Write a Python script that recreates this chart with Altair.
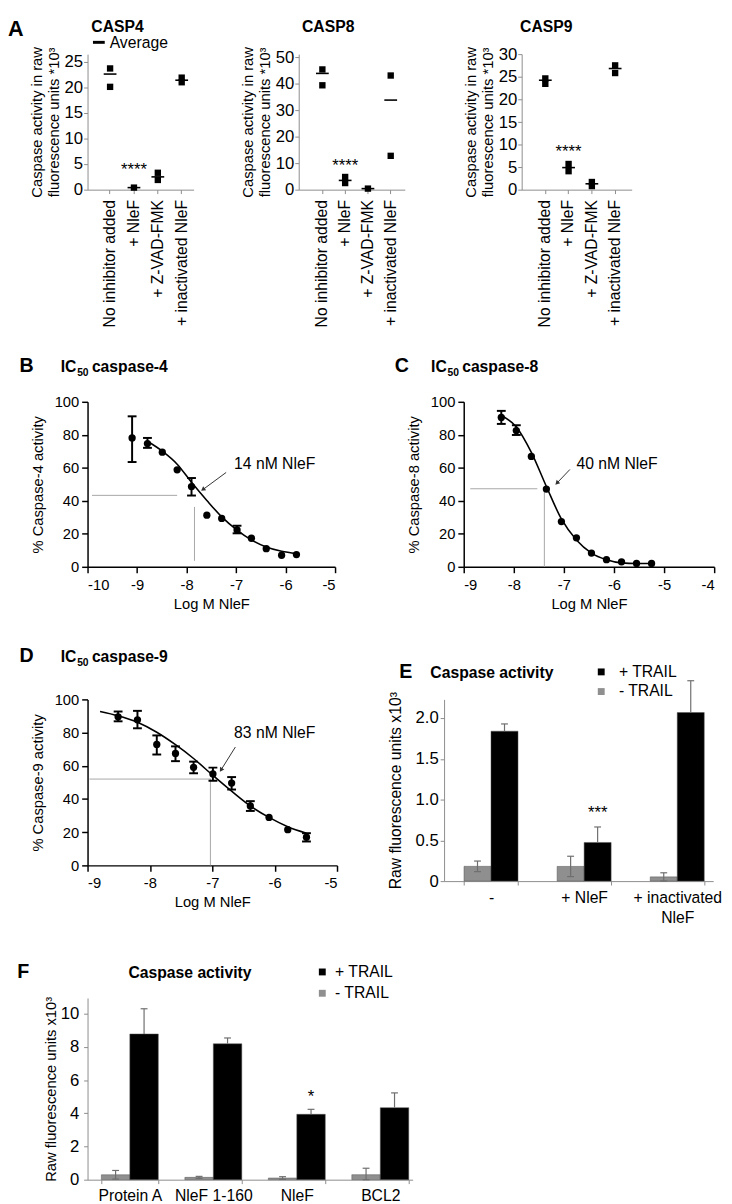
import altair as alt
import pandas as pd

FONT = "Liberation Sans"
AXGREY = "#8c8c8c"
BARGREY = "#8f8f8f"
ERRGREY = "#6e6e6e"

# ---------------- Panel A data ----------------
A_CATS = ["No inhibitor added", "+ NleF", "+ Z-VAD-FMK", "+ inactivated NleF"]

CASP4_PT_CAT = [A_CATS[0], A_CATS[0], A_CATS[1], A_CATS[2], A_CATS[2], A_CATS[3], A_CATS[3]]
CASP4_PT_VAL = [23.7, 20.1, 0.4, 3.3, 1.9, 21.9, 21.0]
CASP4_AVG = [22.6, 0.4, 2.5, 21.4]
CASP4_STAR = 2.9

CASP8_PT_CAT = [A_CATS[0], A_CATS[0], A_CATS[1], A_CATS[1], A_CATS[2], A_CATS[3], A_CATS[3]]
CASP8_PT_VAL = [45.5, 39.5, 4.8, 2.5, 0.4, 43.2, 12.8]
CASP8_AVG = [44.0, 3.5, 0.4, 33.9]
CASP8_STAR = 6.9

CASP9_PT_CAT = [A_CATS[0], A_CATS[0], A_CATS[1], A_CATS[1], A_CATS[2], A_CATS[2], A_CATS[3], A_CATS[3]]
CASP9_PT_VAL = [24.7, 23.5, 5.7, 4.1, 1.7, 0.8, 27.6, 25.9]
CASP9_AVG = [24.3, 4.9, 1.3, 26.9]
CASP9_STAR = 7.3

A_YTITLE = ["Caspase activity in raw", "fluorescence units *10³"]

# ---------------- Panel B data ----------------
B_X = [-9.10, -8.79, -8.49, -8.19, -7.90, -7.59, -7.29, -6.98, -6.69, -6.39, -6.08, -5.78]
B_Y = [78.1, 74.7, 69.5, 58.8, 48.6, 31.3, 29.3, 22.3, 17.3, 11.0, 7.0, 7.4]
B_EX = [-9.10, -8.79, -7.90, -6.98]
B_ELO = [63.5, 72.1, 43.2, 20.3]
B_EHI = [91.2, 78.1, 53.8, 24.9]
B_FX = [-8.79, -8.49, -8.19, -7.90, -7.59, -7.29, -6.98, -6.69, -6.39, -6.08, -5.78]
B_FY = [76.1, 70.1, 62.2, 51.2, 40.2, 30.3, 22.3, 16.3, 12.0, 9.4, 8.0]
B_H = [-9.91, -8.19, 43.3]      # x1, x2, y
B_V = [-7.84, 3.6, 36.3]        # x, y1, y2
B_ARROW = [-7.20, 57.2, -7.67, 46.8]
B_LABEL = ["14 nM NleF", -7.04, 59.5]

# ---------------- Panel C data ----------------
C_X = [-8.25, -7.95, -7.65, -7.35, -7.05, -6.75, -6.45, -6.15, -5.85, -5.55, -5.25]
C_Y = [90.5, 82.6, 66.9, 47.1, 27.4, 17.6, 8.3, 4.3, 3.0, 2.0, 2.0]
C_EX = [-8.25, -7.95]
C_ELO = [86.6, 79.9]
C_EHI = [94.5, 85.8]
C_FX = [-8.25, -7.95, -7.65, -7.35, -7.05, -6.75, -6.45, -6.15, -5.85, -5.55, -5.25]
C_FY = [91.7, 84.8, 69.4, 48.7, 29.0, 16.2, 8.3, 4.3, 2.4, 2.0, 2.0]
C_H = [-8.87, -7.53, 47.3]
C_V = [-7.39, 0.0, 47.3]
C_ARROW = [-6.88, 59.0, -7.14, 50.7]
C_LABEL = ["40 nM NleF", -6.75, 59.0]

# ---------------- Panel D data ----------------
D_X = [-8.51, -8.20, -7.89, -7.59, -7.30, -6.99, -6.69, -6.39, -6.09, -5.79, -5.49]
D_Y = [89.5, 87.7, 72.9, 67.4, 59.1, 55.1, 49.6, 35.8, 28.9, 21.5, 17.0]
D_EX = [-8.51, -8.20, -7.89, -7.59, -7.30, -6.99, -6.69, -6.39, -5.49]
D_ELO = [86.8, 82.6, 66.8, 62.8, 55.5, 51.0, 45.7, 32.8, 14.4]
D_EHI = [92.7, 93.1, 78.3, 71.7, 62.5, 58.9, 53.2, 38.7, 19.4]
D_FX = [-8.80, -8.51, -8.20, -7.89, -7.59, -7.30, -6.99, -6.69, -6.39, -6.09, -5.79, -5.49]
D_FY = [92.7, 90.1, 86.2, 80.2, 72.7, 64.4, 54.2, 44.7, 35.8, 28.9, 23.3, 19.4]
D_H = [-8.97, -7.02, 52.0]
D_V = [-7.03, 0.0, 52.0]
D_ARROW = [-6.63, 71.3, -6.86, 57.5]
D_LABEL = ["83 nM NleF", -6.65, 76.5]

# ---------------- Panel E data ----------------
E_CATS = ["-", "+ NleF", "+ inactivated NleF"]
SERIES_ORDER = ["- TRAIL", "+ TRAIL"]
LEGEND_ORDER = ["+ TRAIL", "- TRAIL"]
E_MINUS = [0.181, 0.180, 0.052]
E_MINUS_ERR = [0.065, 0.125, 0.050]
E_PLUS = [1.839, 0.474, 2.068]
E_PLUS_ERR = [0.089, 0.190, 0.390]
E_STAR = ["***", "+ NleF", 0.77]

# ---------------- Panel F data ----------------
F_CATS = ["Protein A", "NleF 1-160", "NleF", "BCL2"]
F_MINUS = [0.296, 0.14, 0.10, 0.30]
F_MINUS_ERR = [0.26, 0.06, 0.08, 0.39]
F_PLUS = [8.78, 8.19, 3.94, 4.34]
F_PLUS_ERR = [1.52, 0.35, 0.30, 0.89]
F_STAR = ["*", "NleF", 4.7]


def txt(s, x, y, size, weight="normal", align="left", color="black"):
    return alt.Chart(pd.DataFrame({"t": [s]})).mark_text(
        align=align, baseline="alphabetic", fontSize=size, fontWeight=weight,
        font=FONT, color=color
    ).encode(text="t:N", x=alt.value(x), y=alt.value(y))


def box(x1, x2, y1, y2):
    # invisible frame that fixes the space a panel occupies in the layout
    return alt.Chart(pd.DataFrame({"k": [0]})).mark_rect(opacity=0).encode(
        x=alt.value(x1), x2=alt.value(x2), y=alt.value(y1), y2=alt.value(y2))


# ---------------- Panel A charts ----------------
def casp_chart(name, pcat, pval, avg, star_v, ymax, yvals, width, height, pad, align,
               title_x, frame, first=False):
    xsc = alt.Scale(domain=A_CATS, paddingInner=0, paddingOuter=pad, align=align)
    ysc = alt.Scale(domain=[0, ymax], nice=False)
    xax = alt.Axis(title=None, labelAngle=-90, labelFontSize=16, labelPadding=6, tickSize=4,
                   labelLimit=300, domainColor=AXGREY, tickColor=AXGREY)
    yax = alt.Axis(title=A_YTITLE, values=yvals, tickCount=len(yvals), grid=False,
                   labelFontSize=17, labelPadding=1, labelOverlap=False, tickSize=4,
                   titleFontSize=15, titleLineHeight=17, titlePadding=3,
                   domainColor=AXGREY, tickColor=AXGREY)
    X = alt.X("cat:N", scale=xsc, axis=xax)
    Y = alt.Y("v:Q", scale=ysc, axis=yax)
    pts = alt.Chart(pd.DataFrame({"cat": pcat, "v": pval})).mark_square(
        size=42, color="black", opacity=1).encode(x=X, y=Y)
    avg_c = alt.Chart(pd.DataFrame({"cat": A_CATS, "v": avg})).mark_tick(
        size=13, thickness=1.6, color="black", opacity=1).encode(x=X, y=Y)
    star = alt.Chart(pd.DataFrame({"cat": ["+ NleF"], "v": [star_v], "t": ["****"]})).mark_text(
        fontSize=17, baseline="alphabetic", font=FONT, color="black").encode(
        x=X, y=Y, text="t:N")
    layers = [box(*frame), pts, avg_c, star, txt(name, title_x, -23, 16, "bold", "center")]
    if first:
        layers.append(txt("A", -81, -18, 22, "bold"))
        layers.append(alt.Chart(pd.DataFrame({"k": [0]})).mark_rule(
            color="black", strokeWidth=3).encode(
            x=alt.value(5.5), x2=alt.value(17.5), y=alt.value(-12)))
        layers.append(txt("Average", 22.5, -6.5, 16))
    return alt.layer(*layers).properties(width=width, height=height)


casp4 = casp_chart("CASP4", CASP4_PT_CAT, CASP4_PT_VAL, CASP4_AVG, CASP4_STAR, 26.5,
                   [0, 5, 10, 15, 20, 25], 108, 138, 0.222, 1.0, 30.5,
                   (-81, 126, -36, 296), first=True)
casp8 = casp_chart("CASP8", CASP8_PT_CAT, CASP8_PT_VAL, CASP8_AVG, CASP8_STAR, 51.3,
                   [0, 10, 20, 30, 40, 50], 108, 138, 0.328, 0.82, 30,
                   (-88.3, 131.7, -36, 296))
casp9 = casp_chart("CASP9", CASP9_PT_CAT, CASP9_PT_VAL, CASP9_AVG, CASP9_STAR, 30.1,
                   [0, 5, 10, 15, 20, 25, 30], 112, 138, 0.363, 0.71, 25,
                   (-94.3, 194.7, -36, 296))


# ---------------- Panel B/C/D charts ----------------
def ic50_chart(letter, letter_x, num, title_x, title_y, xdom, px, py, ex, elo, ehi, fx, fy,
               href, vref, arrow, angle, label, width, height, frame):
    xsc = alt.Scale(domain=xdom, nice=False)
    ysc = alt.Scale(domain=[0, 100], nice=False)
    xvals = list(range(xdom[0], xdom[1] + 1))
    xax = alt.Axis(title="Log M NleF", values=xvals, labelExpr="'' + datum.value",
                   labelFontSize=15, tickSize=6, labelPadding=5, titleFontSize=15,
                   titlePadding=4, domainColor="black", tickColor="black",
                   domainWidth=1.5, tickWidth=1.5, labelOverlap=False)
    yax = alt.Axis(title=f"% Caspase-{num} activity", values=[0, 20, 40, 60, 80, 100],
                   grid=False, labelFontSize=15, tickSize=6, labelPadding=3,
                   titleFontSize=15, titlePadding=9, domainColor="black",
                   tickColor="black", domainWidth=1.5, tickWidth=1.5, labelOverlap=False)
    X = lambda f: alt.X(f, type="quantitative", scale=xsc, axis=xax)
    Y = lambda f: alt.Y(f, type="quantitative", scale=ysc, axis=yax)

    hdf = pd.DataFrame({"x": [href[0]], "x2": [href[1]], "y": [href[2]]})
    vdf = pd.DataFrame({"x": [vref[0]], "y": [vref[1]], "y2": [vref[2]]})
    h = alt.Chart(hdf).mark_rule(color="#a6a6a6", strokeWidth=1).encode(
        x=X("x"), x2="x2", y=Y("y"))
    v = alt.Chart(vdf).mark_rule(color="#a6a6a6", strokeWidth=1).encode(
        x=X("x"), y=Y("y"), y2="y2")
    fit = alt.Chart(pd.DataFrame({"x": fx, "y": fy})).mark_line(
        color="black", strokeWidth=1.6, interpolate="monotone").encode(x=X("x"), y=Y("y"))
    edf = pd.DataFrame({"x": ex, "lo": elo, "hi": ehi})
    er = alt.Chart(edf).mark_rule(color="black", strokeWidth=2).encode(
        x=X("x"), y=Y("lo"), y2="hi")
    cap_lo = alt.Chart(edf).mark_tick(orient="horizontal", size=9, thickness=2,
                                      color="black", opacity=1).encode(x=X("x"), y=Y("lo"))
    cap_hi = alt.Chart(edf).mark_tick(orient="horizontal", size=9, thickness=2,
                                      color="black", opacity=1).encode(x=X("x"), y=Y("hi"))
    pts = alt.Chart(pd.DataFrame({"x": px, "y": py})).mark_circle(
        size=55, color="black", opacity=1).encode(x=X("x"), y=Y("y"))
    adf = pd.DataFrame({"x": [arrow[0]], "y": [arrow[1]], "x2": [arrow[2]], "y2": [arrow[3]]})
    ar = alt.Chart(adf).mark_rule(color="#333333", strokeWidth=1).encode(
        x=X("x"), y=Y("y"), x2="x2", y2="y2")
    head = alt.Chart(adf).mark_point(shape="triangle-up", filled=True, size=26,
                                     color="#333333", opacity=1, angle=angle).encode(
        x=X("x2"), y=Y("y2"))
    lab = alt.Chart(pd.DataFrame({"t": [label[0]], "x": [label[1]], "y": [label[2]]})).mark_text(
        align="left", baseline="alphabetic", fontSize=16, font=FONT, color="black").encode(
        x=X("x"), y=Y("y"), text="t:N")
    layers = [box(*frame), h, v, fit, er, cap_lo, cap_hi, pts, ar, head, lab,
              txt(letter, letter_x, title_y, 20, "bold"),
              txt("IC", title_x, title_y, 16, "bold"),
              txt("50", title_x + 16.7, title_y + 4, 10.5, "bold"),
              txt(f"caspase-{num}", title_x + 31.7, title_y, 16, "bold")]
    return alt.layer(*layers).properties(width=width, height=height)


chartB = ic50_chart("B", -69.3, 4, -27.3, -30.5, [-10, -5], B_X, B_Y, B_EX, B_ELO, B_EHI,
                    B_FX, B_FY, B_H, B_V, B_ARROW, 234, B_LABEL, 252, 168,
                    (-69.3, 287.7, -57.5, 232.5))
chartC = ic50_chart("C", -70.3, 8, -33.3, -30.5, [-9, -4], C_X, C_Y, C_EX, C_ELO, C_EHI,
                    C_FX, C_FY, C_H, C_V, C_ARROW, 224, C_LABEL, 255, 168,
                    (-94.3, 264.7, -57.5, 232.5))
chartD = ic50_chart("D", -69.3, 9, -27.3, -38.3, [-9, -5], D_X, D_Y, D_EX, D_ELO, D_EHI,
                    D_FX, D_FY, D_H, D_V, D_ARROW, 212, D_LABEL, 254, 169,
                    (-69.3, 282.7, -70, 230))


# ---------------- Panel E/F charts ----------------
def bar_chart(letter, letter_x, title_x, title_y, cats, minus, minus_err, plus, plus_err,
              star, ymax, yvals, ylabel_expr, width, height, pi, po, align,
              legend_x, legend_y, legend_rowpad, legend_offset,
              xlabel_pad, ylab_pad, ytitle_size, ytitle_pad, frame, xlabel_expr=None):
    rows = []
    for c, m, me, p, pe in zip(cats, minus, minus_err, plus, plus_err):
        rows.append({"cat": c, "s": "- TRAIL", "v": m, "lo": max(m - me, 0), "hi": m + me})
        # the lower whisker of a black bar is hidden inside the bar
        rows.append({"cat": c, "s": "+ TRAIL", "v": p, "lo": p, "hi": p + pe})
    df = pd.DataFrame(rows)
    xsc = alt.Scale(domain=cats, paddingInner=pi, paddingOuter=po, align=align)
    ysc = alt.Scale(domain=[0, ymax], nice=False)
    xax_kw = dict(title=None, labelAngle=0, labelFontSize=16, labelPadding=xlabel_pad,
                  tickSize=4, tickBand="extent", domainColor=AXGREY, tickColor=AXGREY,
                  labelLineHeight=20, labelLimit=300)
    if xlabel_expr:
        xax_kw["labelExpr"] = xlabel_expr
    xax = alt.Axis(**xax_kw)
    yax = alt.Axis(title="Raw fluorescence units x10³", values=yvals, tickCount=len(yvals),
                   labelExpr=ylabel_expr, grid=False, labelFontSize=17,
                   labelPadding=ylab_pad, labelOverlap=False, tickSize=4,
                   titleFontSize=ytitle_size, titlePadding=ytitle_pad,
                   domainColor=AXGREY, tickColor=AXGREY)
    X = alt.X("cat:N", scale=xsc, axis=xax)
    Y = lambda f: alt.Y(f, type="quantitative", scale=ysc, axis=yax)
    xoff = alt.XOffset("s:N", scale=alt.Scale(domain=SERIES_ORDER, paddingInner=0, paddingOuter=0))
    color = alt.Color("s:N", scale=alt.Scale(domain=LEGEND_ORDER, range=["black", BARGREY]),
                      legend=alt.Legend(orient="none", legendX=legend_x, legendY=legend_y,
                                        title=None, symbolType="square", symbolSize=49,
                                        symbolStrokeWidth=0, labelFontSize=16,
                                        labelFont=FONT, labelColor="black",
                                        rowPadding=legend_rowpad, padding=0,
                                        labelOffset=legend_offset,
                                        labelExpr="datum.label == '- TRAIL' ? '\u00a0- TRAIL' : datum.label"))
    bars = alt.Chart(df).mark_bar(stroke="#555555", strokeWidth=0.5).encode(
        x=X, xOffset=xoff, y=Y("v"), color=color)
    er = alt.Chart(df).mark_rule(color=ERRGREY, strokeWidth=1.2).encode(
        x=X, xOffset=xoff, y=Y("lo"), y2="hi:Q")
    cap_hi = alt.Chart(df).mark_tick(size=7, thickness=1.2, color=ERRGREY, opacity=1).encode(
        x=X, xOffset=xoff, y=Y("hi"))
    cap_lo = alt.Chart(df).transform_filter(alt.datum.s == "- TRAIL").mark_tick(
        size=7, thickness=1.2, color=ERRGREY, opacity=1).encode(
        x=X, xOffset=xoff, y=Y("lo"))
    st = alt.Chart(pd.DataFrame({"t": [star[0]], "cat": [star[1]], "s": ["+ TRAIL"], "v": [star[2]]})).mark_text(
        fontSize=17, baseline="alphabetic", font=FONT, color="black").encode(
        x=X, xOffset=xoff, y=Y("v"), text="t:N")
    layers = [box(*frame), bars, er, cap_hi, cap_lo, st,
              txt(letter, letter_x, title_y, 20, "bold"),
              txt("Caspase activity", title_x, title_y, 16, "bold")]
    return alt.layer(*layers).properties(width=width, height=height)


chartE = bar_chart("E", -45.7, -14, -21.6, E_CATS, E_MINUS, E_MINUS_ERR, E_PLUS, E_PLUS_ERR,
                   E_STAR, 2.229, [0, 0.5, 1.0, 1.5, 2.0],
                   "datum.value == 0 ? '0' : format(datum.value, '.1f')",
                   274, 185, 0.42, 0.155, 0.69, 152, -36, 4, 10, 5, 2, 16, 12,
                   (-80, 284, -53.3, 246.7),
                   xlabel_expr="datum.label == '+ inactivated NleF' ? ['+ inactivated', 'NleF'] : datum.label")
chartF = bar_chart("F", -71.7, 41.6, -20.7, F_CATS, F_MINUS, F_MINUS_ERR, F_PLUS, F_PLUS_ERR,
                   F_STAR, 10.95, [0, 2, 4, 6, 8, 10], "'' + datum.value",
                   331, 185, 0.318, 0.106, 0.78, 231, -34.5, 5.7, 5, 4, 5, 15, 2,
                   (-73.7, 642.3, -56.7, 209.3))


def indep(c):
    return c.resolve_scale(color="independent", x="independent", y="independent",
                           xOffset="independent").resolve_legend(color="independent")


row1 = indep(alt.hconcat(casp4, casp8, casp9, spacing=0))
row2 = indep(alt.hconcat(chartB, chartC, spacing=0))
row3 = indep(alt.hconcat(chartD, chartE, spacing=0))

chart = indep(alt.vconcat(row1, row2, row3, chartF, spacing=0)).properties(
    padding=0
).configure_view(
    strokeWidth=0
).configure_axis(
    labelFont=FONT, titleFont=FONT, labelColor="black", titleColor="black",
    titleFontWeight="normal", grid=False
).configure_text(font=FONT)

chart.save("out.html", embed_options={"renderer": "svg", "actions": False})
